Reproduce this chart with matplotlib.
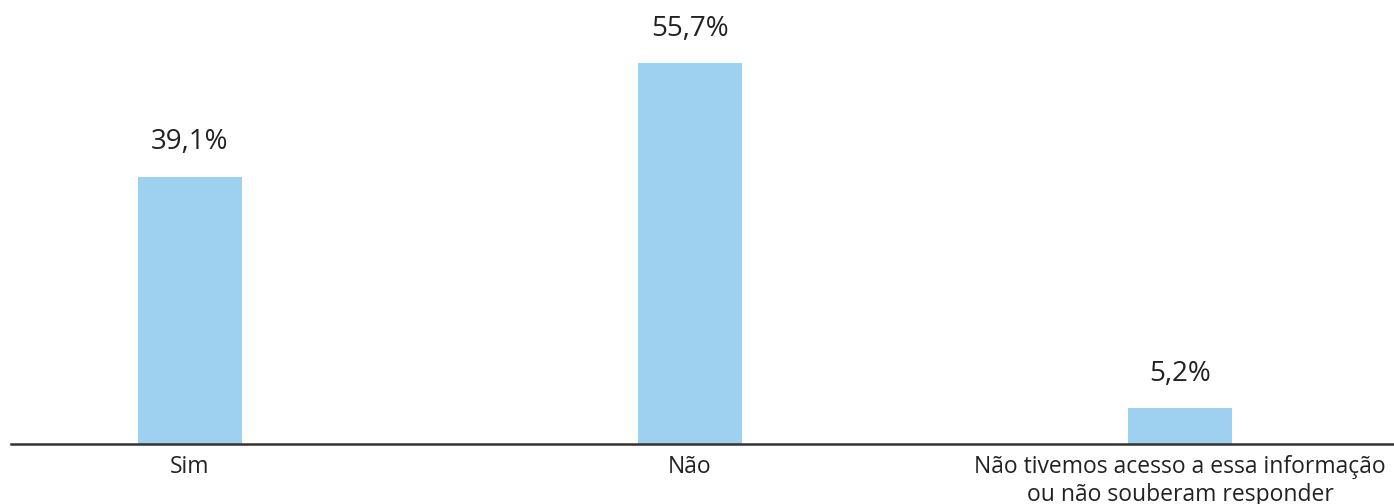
import matplotlib.pyplot as plt

categories = ["Sim", "Não", "Não tivemos acesso a essa informação\nou não souberam responder"]
values = [39.1, 55.7, 5.2]
value_labels = ["39,1%", "55,7%", "5,2%"]

plt.rcParams['font.family'] = ['Open Sans', 'DejaVu Sans']

fig = plt.figure(figsize=(13.94, 5.04), dpi=100)
ax = fig.add_axes([11 / 1394, 1 - 444 / 504, 1 - 11 / 1394, 444 / 504])

x = [0, 1, 1.98]
ax.bar(x, values, width=0.208, color="#9DD1EF")
for xi, v, lab in zip(x, values, value_labels):
    ax.text(xi, v + 5.0, lab, ha="center", va="center", fontsize=20, color="#222222")

ax.set_xlim(-0.358, 2.408)
ax.set_ylim(0, 64.9)
ax.set_xticks(x)
ax.set_xticklabels(categories, fontsize=16.5, color="#222222", linespacing=1.2)
ax.tick_params(axis="x", length=0, pad=8)
ax.set_yticks([])
for s in ["top", "right", "left"]:
    ax.spines[s].set_visible(False)
ax.spines["bottom"].set_linewidth(1.8)
ax.spines["bottom"].set_color("#333333")

fig.savefig("out.png", dpi=100)
